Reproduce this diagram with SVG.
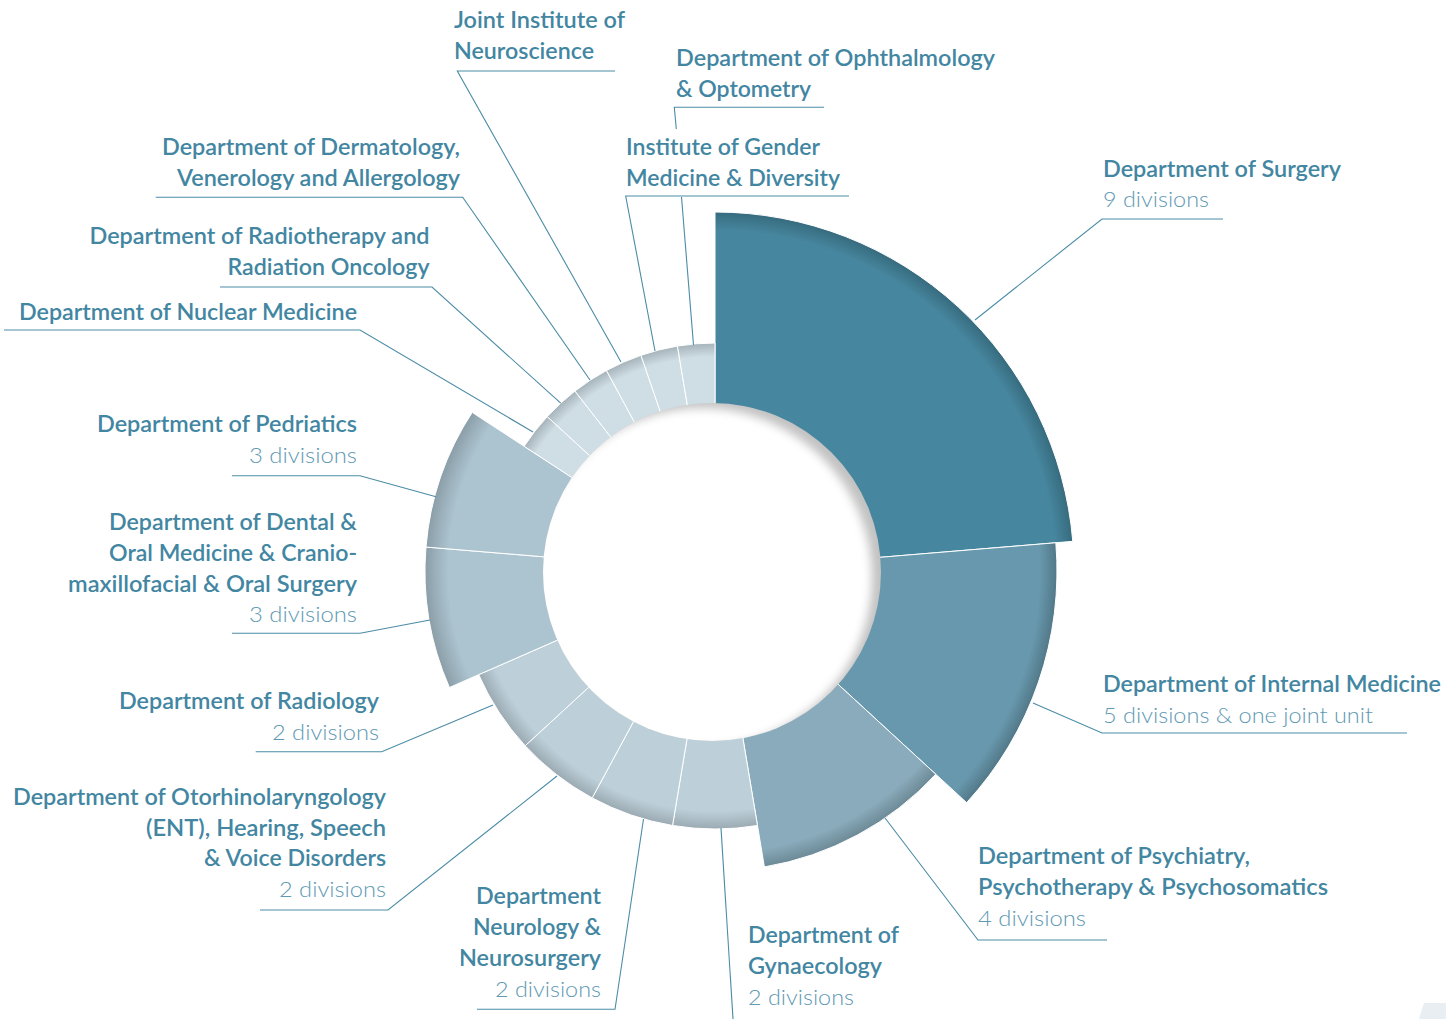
<svg xmlns="http://www.w3.org/2000/svg" width="1446" height="1019" viewBox="0 0 1446 1019">
<style>
.t{font-family:Lato,"Noto Sans","Liberation Sans",sans-serif;font-size:22px;font-weight:600;fill:#4286a2}
.d{font-family:Lato,"Noto Sans","Liberation Sans",sans-serif;font-size:22px;font-weight:300;fill:#5f9ab3}
.e{text-anchor:end}
.ln{fill:none;stroke:#4b8ca6;stroke-width:1.1}
.seg{stroke:#ffffff;stroke-width:1}
</style>
<defs>
<radialGradient id="gSurg" gradientUnits="userSpaceOnUse" cx="715" cy="571" r="359"><stop offset="0" stop-color="#46869e"/><stop offset="0.95" stop-color="#46869e"/><stop offset="1" stop-color="#376b7e"/></radialGradient>
<radialGradient id="gInt" gradientUnits="userSpaceOnUse" cx="715" cy="571" r="342"><stop offset="0" stop-color="#6898ad"/><stop offset="0.95" stop-color="#6898ad"/><stop offset="1" stop-color="#527888"/></radialGradient>
<radialGradient id="gPsy" gradientUnits="userSpaceOnUse" cx="715" cy="571" r="300"><stop offset="0" stop-color="#8aabbb"/><stop offset="0.94" stop-color="#8aabbb"/><stop offset="1" stop-color="#6c8996"/></radialGradient>
<radialGradient id="gMid" gradientUnits="userSpaceOnUse" cx="715" cy="571" r="258"><stop offset="0" stop-color="#bdd0da"/><stop offset="0.93" stop-color="#bdd0da"/><stop offset="1" stop-color="#9baab2"/></radialGradient>
<radialGradient id="gDen" gradientUnits="userSpaceOnUse" cx="715" cy="571" r="290"><stop offset="0" stop-color="#acc4d0"/><stop offset="0.92" stop-color="#acc4d0"/><stop offset="1" stop-color="#8b9ea8"/></radialGradient>
<radialGradient id="gSml" gradientUnits="userSpaceOnUse" cx="715" cy="571" r="228"><stop offset="0" stop-color="#cfdde5"/><stop offset="0.94" stop-color="#cfdde5"/><stop offset="1" stop-color="#a6b3ba"/></radialGradient>
<clipPath id="hole"><circle cx="712" cy="572" r="169"/></clipPath>
<filter id="blur" x="-20%" y="-20%" width="140%" height="140%"><feGaussianBlur stdDeviation="5"/></filter>
</defs>

<g id="chart">
<path id="seg-surgery" class="seg" fill="url(#gSurg)" d="M715,571 L715,212 A359,359 0 0 1 1072.77,541.35 Z"/>
<path id="seg-internal" class="seg" fill="url(#gInt)" d="M715,571 L1055.83,542.76 A342,342 0 0 1 966.62,802.63 Z"/>
<path id="seg-psychiatry" class="seg" fill="url(#gPsy)" d="M715,571 L935.72,774.18 A300,300 0 0 1 764.38,866.91 Z"/>
<path id="seg-gynaecology" class="seg" fill="url(#gMid)" d="M715,571 L757.46,825.48 A258,258 0 0 1 672.54,825.48 Z"/>
<path id="seg-neurology" class="seg" fill="url(#gMid)" d="M715,571 L672.54,825.48 A258,258 0 0 1 592.20,797.90 Z"/>
<path id="seg-ent" class="seg" fill="url(#gMid)" d="M715,571 L592.20,797.90 A258,258 0 0 1 525.18,745.74 Z"/>
<path id="seg-radiology" class="seg" fill="url(#gMid)" d="M715,571 L525.18,745.74 A258,258 0 0 1 478.73,674.64 Z"/>
<path id="seg-dental" class="seg" fill="url(#gDen)" d="M715,571 L449.43,687.49 A290,290 0 0 1 425.99,547.05 Z"/>
<path id="seg-pediatrics" class="seg" fill="url(#gDen)" d="M715,571 L425.99,547.05 A290,290 0 0 1 472.22,412.38 Z"/>
<path id="seg-nuclear" class="seg" fill="url(#gSml)" d="M715,571 L524.13,446.30 A228,228 0 0 1 547.26,416.58 Z"/>
<path id="seg-radiotherapy" class="seg" fill="url(#gSml)" d="M715,571 L547.26,416.58 A228,228 0 0 1 574.96,391.08 Z"/>
<path id="seg-dermatology" class="seg" fill="url(#gSml)" d="M715,571 L574.96,391.08 A228,228 0 0 1 606.48,370.48 Z"/>
<path id="seg-neuroscience" class="seg" fill="url(#gSml)" d="M715,571 L606.48,370.48 A228,228 0 0 1 640.97,355.35 Z"/>
<path id="seg-gender" class="seg" fill="url(#gSml)" d="M715,571 L640.97,355.35 A228,228 0 0 1 677.47,346.11 Z"/>
<path id="seg-ophthalmology" class="seg" fill="url(#gSml)" d="M715,571 L677.47,346.11 A228,228 0 0 1 715,343 Z"/>
<g clip-path="url(#hole)">
<circle cx="712" cy="572" r="170" fill="#c2c2c2"/>
<circle cx="702" cy="578" r="170" fill="#ffffff" filter="url(#blur)"/>
</g>
<polygon points="1424,1003 1446,1003 1446,1019 1419,1019" fill="#e9eef2"/>
</g>

<g id="connectors">
<polyline class="ln" points="975,320 1102,219 1223,219"/>
<polyline class="ln" points="1033,703 1102,733 1407,733"/>
<polyline class="ln" points="885,818 978,940 1107,940"/>
<polyline class="ln" points="721,828 733,1019"/>
<polyline class="ln" points="643.5,819 615,1009.3 477,1009.3"/>
<polyline class="ln" points="557,776 388,910 260,910"/>
<polyline class="ln" points="493,705 381.7,751.7 255.7,751.7"/>
<polyline class="ln" points="430,620 360,633.3 232,633.3"/>
<polyline class="ln" points="436,496.7 360,475.7 232,475.7"/>
<polyline class="ln" points="533,432 360,330 4,330"/>
<polyline class="ln" points="560.7,403.2 432,287 220,287"/>
<polyline class="ln" points="590,380 462.7,197.3 155.7,197.3"/>
<polyline class="ln" points="621,362 457.3,71 615,71"/>
<polyline class="ln" points="655,351 625.7,196 849,196"/>
<polyline class="ln" points="676.3,129 674.3,107.3 824,107.3"/>
<polyline class="ln" points="681.5,197 693.5,345"/>
</g>

<g id="n-surgery">
<text class="t" x="1103" y="177" textLength="238" lengthAdjust="spacingAndGlyphs">Department of Surgery</text>
<text class="d" x="1103" y="207" textLength="106" lengthAdjust="spacingAndGlyphs">9 divisions</text>
</g>
<g id="n-internal">
<text class="t" x="1103" y="692" textLength="338" lengthAdjust="spacingAndGlyphs">Department of Internal Medicine</text>
<text class="d" x="1103" y="723" textLength="270" lengthAdjust="spacingAndGlyphs">5 divisions &amp; one joint unit</text>
</g>
<g id="n-psychiatry">
<text class="t" x="978" y="864" textLength="272" lengthAdjust="spacingAndGlyphs">Department of Psychiatry,</text>
<text class="t" x="978" y="895" textLength="350" lengthAdjust="spacingAndGlyphs">Psychotherapy &amp; Psychosomatics</text>
<text class="d" x="978" y="926" textLength="108" lengthAdjust="spacingAndGlyphs">4 divisions</text>
</g>
<g id="n-gynaecology">
<text class="t" x="748" y="943" textLength="151" lengthAdjust="spacingAndGlyphs">Department of</text>
<text class="t" x="748" y="974" textLength="134" lengthAdjust="spacingAndGlyphs">Gynaecology</text>
<text class="d" x="748" y="1005" textLength="106" lengthAdjust="spacingAndGlyphs">2 divisions</text>
</g>
<g id="n-neurology">
<text class="t e" x="601" y="904" textLength="125" lengthAdjust="spacingAndGlyphs">Department</text>
<text class="t e" x="601" y="935" textLength="128" lengthAdjust="spacingAndGlyphs">Neurology &amp;</text>
<text class="t e" x="601" y="966" textLength="142" lengthAdjust="spacingAndGlyphs">Neurosurgery</text>
<text class="d e" x="601" y="997" textLength="106" lengthAdjust="spacingAndGlyphs">2 divisions</text>
</g>
<g id="n-ent">
<text class="t e" x="386" y="805" textLength="373" lengthAdjust="spacingAndGlyphs">Department of Otorhinolaryngology</text>
<text class="t e" x="386" y="836" textLength="240" lengthAdjust="spacingAndGlyphs">(ENT), Hearing, Speech</text>
<text class="t e" x="386" y="866" textLength="182" lengthAdjust="spacingAndGlyphs">&amp; Voice Disorders</text>
<text class="d e" x="386" y="897" textLength="107" lengthAdjust="spacingAndGlyphs">2 divisions</text>
</g>
<g id="n-radiology">
<text class="t e" x="379" y="708.5" textLength="260" lengthAdjust="spacingAndGlyphs">Department of Radiology</text>
<text class="d e" x="379" y="739.5" textLength="107" lengthAdjust="spacingAndGlyphs">2 divisions</text>
</g>
<g id="n-dental">
<text class="t e" x="357" y="530" textLength="248" lengthAdjust="spacingAndGlyphs">Department of Dental &amp;</text>
<text class="t e" x="357" y="561" textLength="248" lengthAdjust="spacingAndGlyphs">Oral Medicine &amp; Cranio-</text>
<text class="t e" x="357" y="592" textLength="289" lengthAdjust="spacingAndGlyphs">maxillofacial &amp; Oral Surgery</text>
<text class="d e" x="357" y="622" textLength="108" lengthAdjust="spacingAndGlyphs">3 divisions</text>
</g>
<g id="n-pediatrics">
<text class="t e" x="357" y="432" textLength="260" lengthAdjust="spacingAndGlyphs">Department of Pedriatics</text>
<text class="d e" x="357" y="463" textLength="108" lengthAdjust="spacingAndGlyphs">3 divisions</text>
</g>
<g id="n-nuclear">
<text class="t e" x="357" y="320" textLength="338" lengthAdjust="spacingAndGlyphs">Department of Nuclear Medicine</text>
</g>
<g id="n-radiotherapy">
<text class="t e" x="429.5" y="244" textLength="340" lengthAdjust="spacingAndGlyphs">Department of Radiotherapy and</text>
<text class="t e" x="429.5" y="275" textLength="202" lengthAdjust="spacingAndGlyphs">Radiation Oncology</text>
</g>
<g id="n-dermatology">
<text class="t e" x="460" y="155" textLength="298" lengthAdjust="spacingAndGlyphs">Department of Dermatology,</text>
<text class="t e" x="460" y="186" textLength="283" lengthAdjust="spacingAndGlyphs">Venerology and Allergology</text>
</g>
<g id="n-neuroscience">
<text class="t" x="454" y="27.5" textLength="171" lengthAdjust="spacingAndGlyphs">Joint Institute of</text>
<text class="t" x="454" y="59" textLength="140" lengthAdjust="spacingAndGlyphs">Neuroscience</text>
</g>
<g id="n-ophthalmology">
<text class="t" x="676" y="66" textLength="319" lengthAdjust="spacingAndGlyphs">Department of Ophthalmology</text>
<text class="t" x="676" y="97" textLength="135" lengthAdjust="spacingAndGlyphs">&amp; Optometry</text>
</g>
<g id="n-gender">
<text class="t" x="626" y="154.5" textLength="194" lengthAdjust="spacingAndGlyphs">Institute of Gender</text>
<text class="t" x="626" y="185.5" textLength="214" lengthAdjust="spacingAndGlyphs">Medicine &amp; Diversity</text>
</g>
</svg>
